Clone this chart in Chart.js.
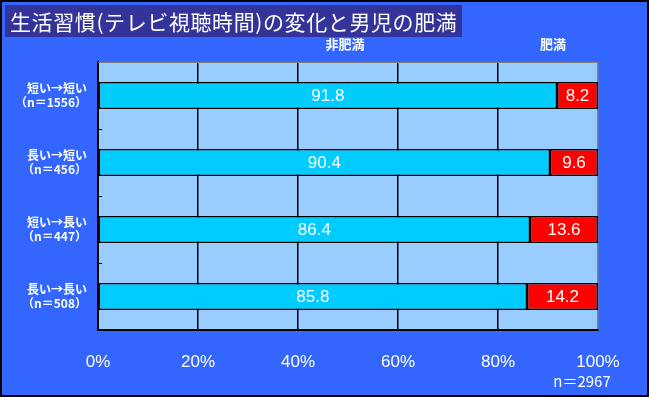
<!DOCTYPE html>
<html>
<head>
<meta charset="utf-8">
<script src="https://cdn.jsdelivr.net/npm/chart.js@4"></script>
<style>
  body { margin: 0; background: #3366ff; }
  #box { width: 649px; height: 397px; position: relative; }
</style>
</head>
<body>
<div id="box"><canvas id="grafico"></canvas></div>
<script>
const categorias = [
  ['短い→短い', '（n＝1556）'],
  ['長い→短い', '（n＝456）'],
  ['短い→長い', '（n＝447）'],
  ['長い→長い', '（n＝508）']
];
const naoObeso = [91.8, 90.4, 86.4, 85.8];
const obeso = [8.2, 9.6, 13.6, 14.2];
const serieNomes = ['非肥満', '肥満'];
const titulo = '生活習慣(テレビ視聴時間)の変化と男児の肥満';
const totalN = 'n＝2967';

const fonteJp = '"Noto Sans CJK JP", "Noto Sans", sans-serif';
const fonteNum = '"Liberation Sans", Arial, sans-serif';

const fundo = {
  id: 'fundo',
  beforeDraw(chart) {
    const ctx = chart.ctx;
    const a = chart.chartArea;
    ctx.save();
    ctx.fillStyle = '#3366ff';
    ctx.fillRect(0, 0, chart.width, chart.height);
    ctx.strokeStyle = '#000000';
    ctx.lineWidth = 2;
    ctx.strokeRect(1, 1, chart.width - 2, chart.height - 2);
    ctx.fillStyle = '#333399';
    ctx.fillRect(5, 5, 457, 32);
    ctx.fillStyle = '#99ccff';
    ctx.fillRect(a.left, a.top, a.right - a.left, a.bottom - a.top);
    ctx.restore();
  },
  afterDatasetsDraw(chart) {
    const ctx = chart.ctx;
    const a = chart.chartArea;
    const y = chart.scales.y;
    ctx.save();
    // borda superior cinza
    ctx.strokeStyle = '#808080';
    ctx.lineWidth = 1;
    ctx.beginPath();
    ctx.moveTo(a.left, a.top + 0.5);
    ctx.lineTo(a.right, a.top + 0.5);
    ctx.stroke();
    // marcas entre categorias
    ctx.strokeStyle = '#000000';
    for (let i = 0; i < categorias.length - 1; i++) {
      const py = Math.round((y.getPixelForValue(i) + y.getPixelForValue(i + 1)) / 2) + 0.5;
      ctx.beginPath();
      ctx.moveTo(a.left, py);
      ctx.lineTo(a.left + 4, py);
      ctx.stroke();
    }
    // valores nas barras
    ctx.fillStyle = '#ffffff';
    ctx.font = '17px ' + fonteNum;
    ctx.textAlign = 'center';
    ctx.textBaseline = 'middle';
    chart.data.datasets.forEach((ds, di) => {
      chart.getDatasetMeta(di).data.forEach((bar, i) => {
        const cx = (bar.x + bar.base) / 2;
        ctx.fillText(ds.data[i].toFixed(1), cx, bar.y + 1);
      });
    });
    // titulo
    ctx.textAlign = 'left';
    ctx.font = '21px ' + fonteJp;
    ctx.letterSpacing = '0.6px';
    ctx.fillText(titulo, 10, 22);
    ctx.letterSpacing = '0px';
    // nomes das series
    ctx.textAlign = 'center';
    ctx.font = 'bold 13px ' + fonteJp;
    ctx.fillText(serieNomes[0], 345, 44);
    ctx.fillText(serieNomes[1], 553, 44);
    // n total
    ctx.font = '15px ' + fonteJp;
    ctx.fillText(totalN, 582, 381);
    ctx.restore();
  }
};

new Chart(document.getElementById('grafico'), {
  type: 'bar',
  data: {
    labels: categorias,
    datasets: [
      {
        label: serieNomes[0],
        data: naoObeso,
        backgroundColor: '#00ccff',
        borderColor: '#000000',
        borderWidth: 1.5,
        borderSkipped: false,
        barPercentage: 0.4,
        categoryPercentage: 1
      },
      {
        label: serieNomes[1],
        data: obeso,
        backgroundColor: '#ff0000',
        borderColor: '#000000',
        borderWidth: 1.5,
        borderSkipped: false,
        barPercentage: 0.4,
        categoryPercentage: 1
      }
    ]
  },
  options: {
    indexAxis: 'y',
    responsive: true,
    maintainAspectRatio: false,
    animation: false,
    layout: { padding: { top: 62, right: 51, left: 0, bottom: 0 } },
    plugins: {
      legend: { display: false },
      tooltip: { enabled: false }
    },
    scales: {
      x: {
        stacked: true,
        min: 0,
        max: 100,
        afterFit(s) { s.height = 67; },
        grid: {
          color: ctx => ctx.index === 5 ? '#808080' : '#000000',
          lineWidth: 1.5,
          drawTicks: false
        },
        border: { color: '#000000', width: 2 },
        ticks: {
          stepSize: 20,
          color: '#ffffff',
          padding: 22,
          font: { family: fonteNum, size: 17 },
          callback: v => v + '%'
        }
      },
      y: {
        stacked: true,
        afterFit(s) { s.width = 98; },
        grid: { display: false, drawTicks: false },
        border: { color: '#000000', width: 2 },
        ticks: {
          color: '#ffffff',
          padding: 11,
          font: { family: fonteJp, size: 12, weight: 'bold', lineHeight: 1.2 }
        }
      }
    }
  },
  plugins: [fundo]
});
</script>
</body>
</html>
